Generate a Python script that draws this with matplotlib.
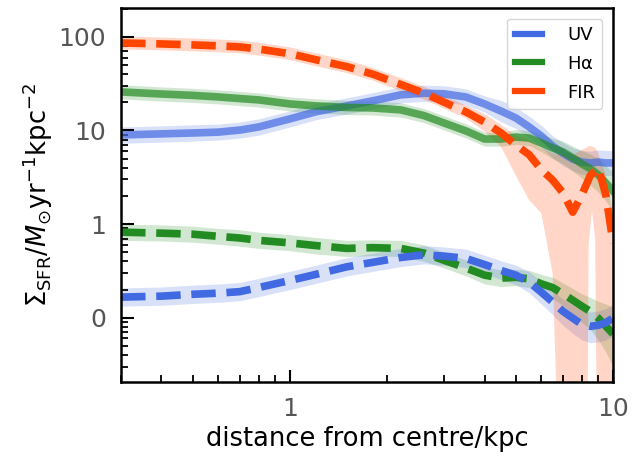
import numpy as np
import matplotlib
matplotlib.use("Agg")
import matplotlib.pyplot as plt
from matplotlib.lines import Line2D

# radii (kpc) at which the profiles were read
radius = [0.3, 0.4, 0.5, 0.6, 0.7, 0.8, 1.0, 1.2, 1.5, 1.8, 2.2, 2.6, 3.0, 3.5,
          4.0, 4.5, 5.0, 5.5, 6.0, 6.5, 7.0, 7.5, 8.0, 8.5, 9.0, 9.5, 10.0]

# upper (solid) profiles
uv_top = [8.95, 9.2, 9.4, 9.6, 10.1, 10.9, 13.3, 15.8, 18.3, 20.7, 24, 25, 24.6, 22.8,
          19.2, 16.1, 13.6, 10.9, 8.7, 6.8, 5.7, 4.95, 4.6, 4.5, 4.6, 4.5, 4.5]
uv_top_lo = [7.3, 7.5, 7.7, 7.9, 8.3, 8.9, 10.9, 13.0, 15.0, 17.0, 19.7, 20.5, 20.2, 18.7,
             15.7, 12.4, 10.5, 8.4, 6.6, 5.1, 4.2, 3.7, 3.4, 3.3, 3.4, 3.3, 3.3]
uv_top_hi = [10.9, 11.2, 11.5, 11.7, 12.3, 13.3, 16.2, 19.3, 22.3, 25.3, 29.3, 30.5, 30.0, 27.8,
             23.4, 20.9, 17.7, 14.2, 11.3, 8.8, 7.4, 6.5, 6.1, 6.0, 6.2, 6.1, 6.1]

ha_top = [25.8, 24.5, 23.7, 22.8, 21.9, 21.2, 19.2, 18.3, 17.6, 17.4, 16.6, 14.4, 12.0, 9.9,
          8.1, 8.1, 8.5, 8.3, 7.35, 6.5, 5.9, 5.1, 4.4, 3.9, 3.35, 2.75, 2.25]
ha_top_lo = [21.7, 20.6, 19.9, 19.2, 18.4, 17.8, 16.1, 15.4, 14.8, 14.6, 13.9, 12.1, 10.1, 8.3,
             6.8, 6.8, 7.1, 6.9, 5.9, 5.0, 4.4, 3.7, 3.1, 2.6, 2.2, 1.75, 1.4]
ha_top_hi = [30.7, 29.2, 28.2, 27.1, 26.1, 25.2, 22.8, 21.8, 20.9, 20.7, 19.8, 17.1, 14.3, 11.8,
             9.6, 9.6, 10.2, 10.0, 9.1, 8.2, 7.7, 6.8, 6.1, 5.6, 5.0, 4.2, 3.6]

# lower (dashed) profiles
ha_low = [0.82, 0.80, 0.78, 0.74, 0.71, 0.67, 0.63, 0.59, 0.55, 0.56, 0.55, 0.49, 0.41, 0.34,
          0.285, 0.265, 0.27, 0.26, 0.23, 0.21, 0.18, 0.154, 0.133, 0.117, 0.099, 0.081, 0.067]
ha_low_lo = [0.67, 0.66, 0.64, 0.61, 0.58, 0.55, 0.52, 0.48, 0.45, 0.46, 0.45, 0.40, 0.34, 0.28,
             0.23, 0.215, 0.22, 0.21, 0.18, 0.16, 0.135, 0.11, 0.09, 0.075, 0.058, 0.043, 0.03]
ha_low_hi = [1.0, 0.98, 0.95, 0.9, 0.87, 0.82, 0.77, 0.72, 0.67, 0.68, 0.67, 0.6, 0.5, 0.415,
             0.35, 0.325, 0.33, 0.32, 0.29, 0.27, 0.235, 0.205, 0.18, 0.165, 0.15, 0.14, 0.13]

uv_low = [0.166, 0.17, 0.178, 0.183, 0.19, 0.21, 0.25, 0.29, 0.35, 0.39, 0.44, 0.47, 0.455, 0.43,
          0.37, 0.32, 0.285, 0.24, 0.187, 0.147, 0.117, 0.099, 0.085, 0.081, 0.083, 0.089, 0.099]
uv_low_lo = [0.133, 0.136, 0.142, 0.146, 0.152, 0.168, 0.2, 0.232, 0.28, 0.312, 0.352, 0.376, 0.364, 0.344,
             0.296, 0.256, 0.225, 0.185, 0.14, 0.108, 0.083, 0.068, 0.058, 0.054, 0.055, 0.058, 0.064]
uv_low_hi = [0.208, 0.213, 0.223, 0.229, 0.238, 0.263, 0.313, 0.363, 0.438, 0.488, 0.55, 0.588, 0.57, 0.54,
             0.465, 0.405, 0.365, 0.31, 0.245, 0.195, 0.158, 0.136, 0.12, 0.115, 0.118, 0.125, 0.138]

# FIR (dashed)
fir = [86, 84, 82, 80, 78, 74, 66, 57, 48, 40, 31, 25, 20, 15.8,
       12.3, 9.4, 7.0, 5.5, 3.8, 2.95, 2.15, 1.34, 2.04, 3.3, 3.97, 2.04, 0.63]
radius_fir_band = [0.3, 0.4, 0.5, 0.6, 0.7, 0.8, 1.0, 1.2, 1.5, 1.8, 2.2, 2.6, 3.0, 3.5,
                   4.0, 4.5, 5.0, 5.5, 6.0, 6.5, 6.85, 7.5, 8.0, 8.3, 8.4, 8.6, 8.8, 8.95, 9.5, 10.0]
fir_lo = [73.5, 71.8, 70, 68.4, 66.7, 63.2, 56.4, 48.7, 41, 34.2, 26.5, 21.4, 17.1, 13.5,
          9.8, 6.7, 3.3, 1.8, 1.3, 0.3, 0.001, 0.001, 0.001, 0.001, 0.6, 1.4, 0.7, 0.001, 0.001, 0.001]
fir_hi = [100.6, 98.3, 95.9, 93.6, 91.3, 86.6, 77.2, 66.7, 56.2, 46.8, 36.3, 29.3, 23.4, 18.5,
          15, 11.5, 8.8, 7.9, 6.5, 5.7, 5.5, 5.5, 6.2, 6.6, 6.8, 6.8, 6.5, 6.0, 3.3, 1.25]

labels = ["UV", r"H$\mathrm{\alpha}$", "FIR"]
colors = ["royalblue", "forestgreen", "orangered"]

dash = (0, (3.2, 1.4))

fig = plt.figure(figsize=(6.34, 4.61), dpi=100)
ax = fig.add_axes([0.191, 0.171, 0.776, 0.812])

# bands
ax.fill_between(radius, uv_top_lo, uv_top_hi, color=colors[0], alpha=0.2, lw=0)
ax.fill_between(radius, ha_top_lo, ha_top_hi, color=colors[1], alpha=0.2, lw=0)
ax.fill_between(radius, ha_low_lo, ha_low_hi, color=colors[1], alpha=0.2, lw=0)
ax.fill_between(radius, uv_low_lo, uv_low_hi, color=colors[0], alpha=0.2, lw=0)
ax.fill_between(radius_fir_band, fir_lo, fir_hi, color=colors[2], alpha=0.22, lw=0)

# lines
ax.plot(radius, uv_top, color=colors[0], lw=5.5, alpha=0.7)
ax.plot(radius, ha_top, color=colors[1], lw=5.5, alpha=0.7)
ax.plot(radius, ha_low, color=colors[1], lw=5.5, ls=dash)
ax.plot(radius, uv_low, color=colors[0], lw=5.5, ls=dash)
ax.plot(radius, fir, color=colors[2], lw=5.5, ls=dash)

ax.set_xscale("log")
ax.set_yscale("log")
ax.set_xlim(0.3, 10)
ax.set_ylim(0.0205, 204)

ax.set_xticks([1, 10])
ax.set_xticklabels(["1", "10"])
ax.set_yticks([100, 10, 1, 0.1])
ax.set_yticklabels(["100", "10", "1", "0"])

ax.tick_params(which="both", direction="in", top=False, right=False,
               labelsize=18, labelcolor="#555555", pad=11)
ax.tick_params(which="major", length=9, width=1.5)
ax.tick_params(which="minor", length=5, width=1.3)
for s in ax.spines.values():
    s.set_linewidth(1.8)

ax.set_xlabel("distance from centre/kpc", fontsize=18.5, labelpad=3)
ax.set_ylabel(r"$\Sigma_{\rm SFR}/M_{\odot}{\rm yr}^{-1}{\rm kpc}^{-2}$", fontsize=18.5, labelpad=2)

handles = [Line2D([], [], color=c, lw=4.5) for c in colors]
ax.legend(handles, labels, loc="upper right", fontsize=13, handlelength=1.5,
          handletextpad=1.4, labelspacing=0.6, borderaxespad=0.6)

fig.savefig("out.png", dpi=100)
